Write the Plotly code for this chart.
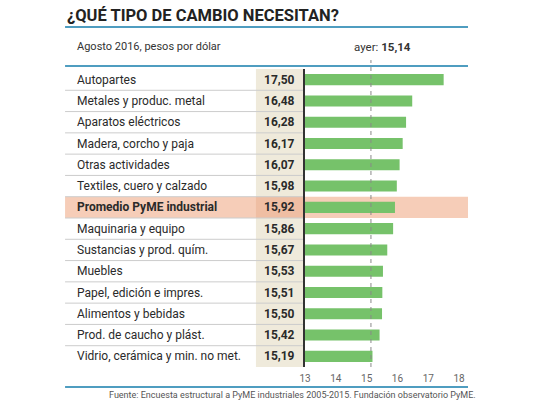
import plotly.graph_objects as go

# datos
categorias = [
    "Autopartes", "Metales y produc. metal", "Aparatos eléctricos",
    "Madera, corcho y paja", "Otras actividades", "Textiles, cuero y calzado",
    "Promedio PyME industrial", "Maquinaria y equipo", "Sustancias y prod. quím.",
    "Muebles", "Papel, edición e impres.", "Alimentos y bebidas",
    "Prod. de caucho y plást.", "Vidrio, cerámica y min. no met.",
]
valores = [17.50, 16.48, 16.28, 16.17, 16.07, 15.98, 15.92,
           15.86, 15.67, 15.53, 15.51, 15.50, 15.42, 15.19]
destacado = "Promedio PyME industrial"
ayer = 15.14
ticks = [13, 14, 15, 16, 17, 18]

FONT = "Roboto, sans-serif"
VERDE = "#76c26a"
AZUL = "#4f9dc0"
BEIGE = "#efeadb"
SALMON = "#f6cdb8"
SALMON2 = "#efbea3"

def coma(v):
    return f"{v:.2f}".replace(".", ",")

fig = go.Figure()
fig.add_trace(go.Bar(
    x=[v - 13 for v in valores], base=13, y=categorias, orientation="h",
    marker=dict(color=VERDE, line=dict(width=0)), width=0.52,
    hoverinfo="skip",
))

L0, TXT, COL0 = -1.472, -1.411, -0.301
shapes = []
# columna de valores
shapes.append(dict(type="rect", xref="paper", yref="paper", x0=COL0, x1=0, y0=0, y1=1,
                   fillcolor=BEIGE, line=dict(width=0), layer="below"))
# fila destacada
idx = categorias.index(destacado)
shapes.append(dict(type="rect", xref="paper", yref="y", x0=L0, x1=1, y0=idx - 0.5, y1=idx + 0.5,
                   fillcolor=SALMON, line=dict(width=0), layer="below"))
shapes.append(dict(type="rect", xref="paper", yref="y", x0=COL0, x1=0, y0=idx - 0.5, y1=idx + 0.5,
                   fillcolor=SALMON2, line=dict(width=0), layer="below"))
# separadores
for i in range(len(categorias) - 1):
    shapes.append(dict(type="line", xref="paper", yref="y", x0=L0, x1=0, y0=i + 0.5, y1=i + 0.5,
                       line=dict(color="#cccccc", width=1), layer="below"))
# líneas azules
for yp in [1.141, 1.010, -0.067]:
    shapes.append(dict(type="line", xref="paper", yref="paper", x0=L0, x1=1, y0=yp, y1=yp,
                       line=dict(color=AZUL, width=2)))
# línea de ayer
shapes.append(dict(type="line", xref="x", yref="paper", x0=ayer, x1=ayer, y0=0, y1=1.03,
                   line=dict(color="#8a8a8a", width=1, dash="4px,4px")))

ann = []
for c, v in zip(categorias, valores):
    b = c == destacado
    ann.append(dict(xref="paper", yref="y", x=TXT, y=c, xanchor="left", showarrow=False,
                    text=f"<b>{c}</b>" if b else c,
                    font=dict(family=FONT, size=12, color="#2a2a2a")))
    ann.append(dict(xref="paper", yref="y", x=-0.049, y=c, xanchor="right", showarrow=False,
                    text=f"<b>{coma(v)}</b>", font=dict(family=FONT, size=12, color="#2a2a2a")))

ann.append(dict(xref="paper", yref="paper", x=L0, y=1.181, xanchor="left", yanchor="middle",
                showarrow=False, text="<b>¿QUÉ TIPO DE CAMBIO NECESITAN?</b>",
                font=dict(family=FONT, size=16.5, color="#222222")))
ann.append(dict(xref="paper", yref="paper", x=TXT, y=1.074, xanchor="left", yanchor="middle",
                showarrow=False, text="Agosto 2016, pesos por dólar",
                font=dict(family=FONT, size=11, color="#333333")))
ann.append(dict(xref="x", yref="paper", x=ayer, xshift=-19, y=1.074, xanchor="left",
                yanchor="middle", showarrow=False, text=f"ayer: <b>{coma(ayer)}</b>",
                font=dict(family=FONT, size=11.5, color="#333333")))
ann.append(dict(xref="paper", yref="paper", x=-0.078, y=-0.094, xanchor="center",
                yanchor="middle", showarrow=False,
                text="Fuente: Encuesta estructural a PyME industriales 2005-2015. Fundación observatorio PyME.",
                font=dict(family=FONT, size=9, color="#555555")))

fig.update_layout(
    width=540, height=405,
    margin=dict(l=305, r=72, t=69, b=38),
    paper_bgcolor="white", plot_bgcolor="white",
    showlegend=False, bargap=0.45,
    shapes=shapes, annotations=ann,
    xaxis=dict(range=[13, 18.29], tickvals=ticks, ticktext=[str(t) for t in ticks],
               showgrid=False, zeroline=False, showline=False, ticks="",
               ticklabelstandoff=4,
               tickfont=dict(family=FONT, size=10, color="#666666"), fixedrange=True),
    yaxis=dict(categoryorder="array", categoryarray=categorias, autorange="reversed",
               showticklabels=False, showgrid=False, zeroline=False,
               showline=True, linecolor="#333333", linewidth=1.5, ticks="", fixedrange=True),
)

fig.write_html("out.html", config={"displayModeBar": False},
               post_script="document.body.style.margin='0';")
